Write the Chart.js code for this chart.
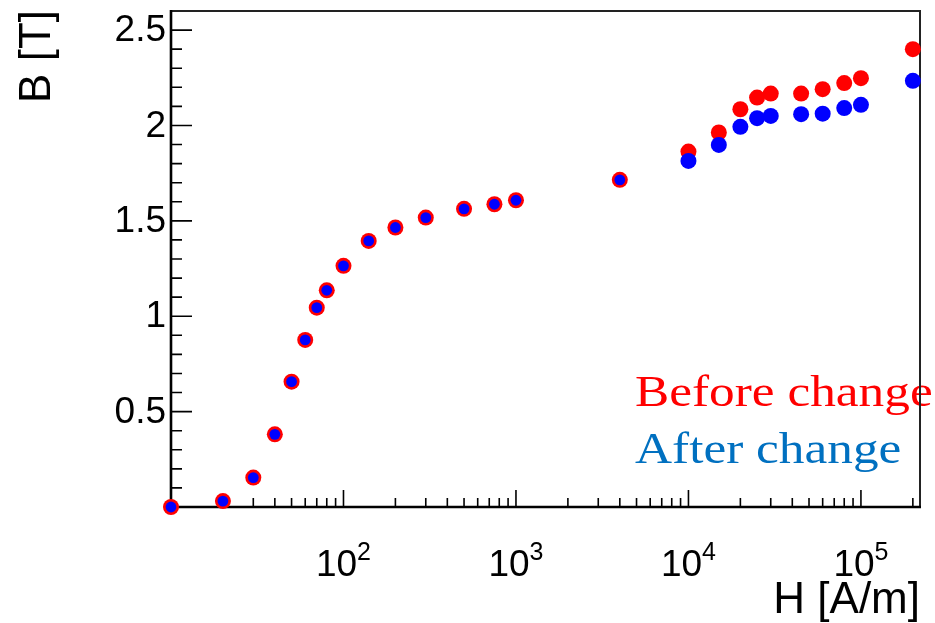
<!DOCTYPE html>
<html>
<head>
<meta charset="utf-8">
<script src="https://cdn.jsdelivr.net/npm/chart.js@4/dist/chart.umd.min.js"></script>
<style>
  html, body { margin: 0; padding: 0; background: #ffffff; }
  #wrap { width: 935px; height: 623px; }
</style>
</head>
<body>
<div id="wrap"><canvas id="bh" width="935" height="623"></canvas></div>
<script>
// Magnetisation curve B(H), before and after the change
const fieldH = [10, 20, 30, 40, 50, 60, 70, 80, 100, 140, 200, 300, 500, 750, 1000,
                4000, 10000, 15000, 20000, 25000, 30000, 45000, 60000, 80000, 100000, 200000];
const beforeB = [0.000, 0.031, 0.154, 0.381, 0.657, 0.876, 1.045, 1.136, 1.264, 1.395,
                 1.465, 1.517, 1.563, 1.587, 1.608, 1.715, 1.863, 1.963, 2.085, 2.146,
                 2.167, 2.167, 2.190, 2.222, 2.248, 2.400];
const afterB  = [0.000, 0.031, 0.154, 0.381, 0.657, 0.876, 1.045, 1.136, 1.264, 1.395,
                 1.465, 1.517, 1.563, 1.587, 1.608, 1.715, 1.814, 1.898, 1.993, 2.038,
                 2.050, 2.059, 2.062, 2.091, 2.108, 2.234];

const seriesNames = ["Before change", "After change"];
const xMajorTicks = [100, 1000, 10000, 100000];
const xTickExponents = ["2", "3", "4", "5"];
const yMajorTicks = [0.5, 1, 1.5, 2, 2.5];
const yTickLabels = ["0.5", "1", "1.5", "2", "2.5"];
const xTitle = "H [A/m]";
const yTitle = "B [T]";

const RED = "#ff0000";
const BLUE = "#0000ff";
const TEXT_BLUE = "#0070c0";

const toPoints = (ys) => fieldH.map((h, i) => ({ x: h, y: ys[i] }));

// Frame, inward ticks, tick labels, axis titles and the two series captions
const framePlugin = {
  id: "frame",
  beforeDatasetsDraw(chart) {
    const ctx = chart.ctx;
    const a = chart.chartArea;
    const xs = chart.scales.x;
    const ys = chart.scales.y;
    ctx.save();

    // series captions (serif)
    ctx.textAlign = "left";
    ctx.textBaseline = "alphabetic";
    ctx.font = "45px 'Liberation Serif', serif";
    const captions = [[seriesNames[0], RED, 406], [seriesNames[1], TEXT_BLUE, 463]];
    captions.forEach(([txt, col, base]) => {
      ctx.save();
      ctx.translate(a.left + 464, base);
      ctx.scale(1.14, 1);
      ctx.fillStyle = col;
      ctx.fillText(txt, 0, 0);
      ctx.restore();
    });

    // frame on top and right
    ctx.strokeStyle = "#222222";
    ctx.lineWidth = 2;
    ctx.beginPath();
    ctx.moveTo(a.left, a.top);
    ctx.lineTo(a.right, a.top);
    ctx.lineTo(a.right, a.bottom);
    ctx.stroke();

    // y ticks
    ctx.strokeStyle = "#000000";
    ctx.lineWidth = 1.6;
    ctx.beginPath();
    for (let k = 1; k <= 25; k++) {
      const v = k / 10;
      const py = ys.getPixelForValue(v);
      const major = k % 5 === 0;
      ctx.moveTo(a.left, py);
      ctx.lineTo(a.left + (major ? 21 : 11), py);
    }
    // x ticks
    for (let d = 10; d <= 100000; d *= 10) {
      for (let m = 1; m <= 9; m++) {
        const v = d * m;
        if (v <= xs.min || v > xs.max) continue;
        const px = xs.getPixelForValue(v);
        const major = m === 1;
        ctx.moveTo(px, a.bottom);
        ctx.lineTo(px, a.bottom - (major ? 17 : 9));
      }
    }
    ctx.stroke();

    // axis lines
    ctx.lineWidth = 2.6;
    ctx.beginPath();
    ctx.moveTo(a.left, a.top - 1);
    ctx.lineTo(a.left, a.bottom);
    ctx.lineTo(a.right + 1, a.bottom);
    ctx.stroke();

    // y tick labels
    ctx.fillStyle = "#000000";
    ctx.font = "37px 'Liberation Sans', Arial, sans-serif";
    ctx.textAlign = "right";
    ctx.textBaseline = "middle";
    yMajorTicks.forEach((v, i) => {
      ctx.fillText(yTickLabels[i], a.left - 5, ys.getPixelForValue(v) + 1);
    });

    // x tick labels: 10 with a raised exponent
    ctx.textBaseline = "alphabetic";
    ctx.textAlign = "left";
    xMajorTicks.forEach((v, i) => {
      const px = xs.getPixelForValue(v);
      ctx.font = "37px 'Liberation Sans', Arial, sans-serif";
      const wb = ctx.measureText("10").width;
      ctx.font = "25px 'Liberation Sans', Arial, sans-serif";
      const we = ctx.measureText(xTickExponents[i]).width;
      const x0 = px - (wb + we) / 2;
      ctx.font = "37px 'Liberation Sans', Arial, sans-serif";
      ctx.fillText("10", x0, 576);
      ctx.font = "25px 'Liberation Sans', Arial, sans-serif";
      ctx.fillText(xTickExponents[i], x0 + wb, 560);
    });

    // axis titles
    ctx.font = "44px 'Liberation Sans', Arial, sans-serif";
    ctx.textAlign = "right";
    ctx.fillText(xTitle, a.right, 613);
    ctx.save();
    ctx.translate(50, a.top - 1);
    ctx.rotate(-Math.PI / 2);
    ctx.textAlign = "right";
    ctx.fillText(yTitle, 0, 0);
    ctx.restore();

    ctx.restore();
  }
};

new Chart(document.getElementById("bh"), {
  type: "scatter",
  data: {
    datasets: [
      {
        label: seriesNames[1],
        data: toPoints(afterB),
        backgroundColor: BLUE,
        borderWidth: 0,
        pointRadius: (c) => (Math.abs(afterB[c.dataIndex] - beforeB[c.dataIndex]) < 0.005 ? 5.4 : 8),
        pointHoverRadius: 8,
        clip: false,
        order: 1
      },
      {
        label: seriesNames[0],
        data: toPoints(beforeB),
        backgroundColor: RED,
        borderWidth: 0,
        pointRadius: 8,
        pointHoverRadius: 8,
        clip: false,
        order: 2
      }
    ]
  },
  options: {
    responsive: false,
    animation: false,
    events: [],
    layout: { padding: { left: 171, top: 11, right: 15, bottom: 116 } },
    plugins: { legend: { display: false }, tooltip: { enabled: false } },
    scales: {
      x: { type: "logarithmic", min: 10, max: 220000, display: false },
      y: { type: "linear", min: 0, max: 2.6, display: false }
    }
  },
  plugins: [framePlugin]
});
</script>
</body>
</html>
